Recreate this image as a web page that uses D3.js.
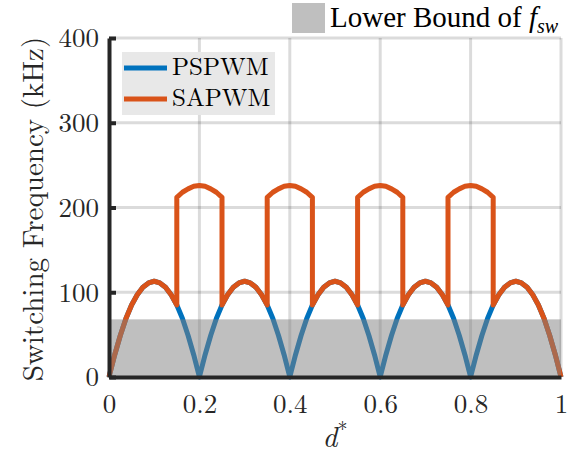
<!DOCTYPE html>
<meta charset="utf-8">
<style>
body { margin: 0; background: #fff; }
.grid line { stroke: #000; stroke-opacity: 0.14; stroke-width: 3; }
.axis path, .axis line { stroke: #262626; stroke-width: 4; }
.line { fill: none; stroke-width: 5; stroke-linejoin: round; }
</style>
<body>
<script src="https://d3js.org/d3.v7.min.js"></script>
<script>

// PSPWM switching frequency (kHz), sampled every dStep of d*
var dStep = 0.0125;
var pspwm = [
  0, 26, 49, 69, 85, 97, 106, 111, 113, 111, 106, 97, 85, 69, 49, 26,
  0, 26, 49, 69, 85, 97, 106, 111, 113, 111, 106, 97, 85, 69, 49, 26,
  0, 26, 49, 69, 85, 97, 106, 111, 113, 111, 106, 97, 85, 69, 49, 26,
  0, 26, 49, 69, 85, 97, 106, 111, 113, 111, 106, 97, 85, 69, 49, 26,
  0, 26, 49, 69, 85, 97, 106, 111, 113, 111, 106, 97, 85, 69, 49, 26,
  0
];

// SAPWM: [d*, kHz], jumps at 0.15, 0.25, ...
var sapwm = [
  [0, 0], [0.0125, 26], [0.025, 49], [0.0375, 69], [0.05, 85], [0.0625, 97], [0.075, 106], [0.0875, 111],
  [0.1, 113], [0.1125, 111], [0.125, 106], [0.1375, 97], [0.15, 85],
  [0.15, 212], [0.1625, 218], [0.175, 222], [0.1875, 225], [0.2, 226], [0.2125, 225], [0.225, 222], [0.2375, 218], [0.25, 212],
  [0.25, 85], [0.2625, 97], [0.275, 106], [0.2875, 111], [0.3, 113], [0.3125, 111], [0.325, 106], [0.3375, 97], [0.35, 85],
  [0.35, 212], [0.3625, 218], [0.375, 222], [0.3875, 225], [0.4, 226], [0.4125, 225], [0.425, 222], [0.4375, 218], [0.45, 212],
  [0.45, 85], [0.4625, 97], [0.475, 106], [0.4875, 111], [0.5, 113], [0.5125, 111], [0.525, 106], [0.5375, 97], [0.55, 85],
  [0.55, 212], [0.5625, 218], [0.575, 222], [0.5875, 225], [0.6, 226], [0.6125, 225], [0.625, 222], [0.6375, 218], [0.65, 212],
  [0.65, 85], [0.6625, 97], [0.675, 106], [0.6875, 111], [0.7, 113], [0.7125, 111], [0.725, 106], [0.7375, 97], [0.75, 85],
  [0.75, 212], [0.7625, 218], [0.775, 222], [0.7875, 225], [0.8, 226], [0.8125, 225], [0.825, 222], [0.8375, 218], [0.85, 212],
  [0.85, 85], [0.8625, 97], [0.875, 106], [0.8875, 111], [0.9, 113], [0.9125, 111], [0.925, 106], [0.9375, 97], [0.95, 85],
  [0.9625, 69], [0.975, 49], [0.9875, 26], [1, 0]
];

var lowerBound = 68;   // kHz, grey band
var xTicks = [0, 0.2, 0.4, 0.6, 0.8, 1];
var xTickLabels = ["0", "0.2", "0.4", "0.6", "0.8", "1"];
var yTicks = [0, 100, 200, 300, 400];
var seriesNames = ["PSPWM", "SAPWM"];
var seriesColors = ["#0072BD", "#D95319"];

var LM = "'Latin Modern Roman', 'CMU Serif', 'Liberation Serif', serif";
var TIMES = "'Liberation Serif', 'Times New Roman', serif";

var W = 573, H = 456;
var x = d3.scaleLinear().domain([0, 1]).range([109, 561]);
var y = d3.scaleLinear().domain([0, 400]).range([377, 38]);

var svg = d3.select("body").append("svg")
    .attr("width", W)
    .attr("height", H);

// grid
var grid = svg.append("g").attr("class", "grid");
grid.selectAll(".gx").data(xTicks.slice(1)).enter().append("line")
    .attr("x1", d => x(d)).attr("x2", d => x(d))
    .attr("y1", y(0)).attr("y2", y(400));
grid.selectAll(".gy").data(yTicks.slice(1)).enter().append("line")
    .attr("x1", x(0)).attr("x2", x(1))
    .attr("y1", d => y(d)).attr("y2", d => y(d));

// curves
var line = d3.line()
    .x(d => x(d[0]))
    .y(d => y(d[1]));

var psData = pspwm.map((v, i) => [i * dStep, v]);

svg.append("path").datum(psData)
    .attr("class", "line")
    .attr("stroke", seriesColors[0])
    .attr("d", line);

svg.append("path").datum(sapwm)
    .attr("class", "line")
    .attr("stroke", seriesColors[1])
    .attr("d", line);

// lower bound band, drawn translucent over the lines
svg.append("rect")
    .attr("x", x(0))
    .attr("y", y(lowerBound))
    .attr("width", x(1) - x(0))
    .attr("height", y(0) - y(lowerBound))
    .attr("fill", "#808080")
    .attr("fill-opacity", 0.5);

// axes
var yAxis = d3.axisLeft(y)
    .tickValues(yTicks)
    .tickSizeInner(-7)
    .tickSizeOuter(0)
    .tickPadding(10);

var gy = svg.append("g")
    .attr("class", "axis")
    .attr("transform", "translate(" + x(0) + ",0)")
    .call(yAxis);
gy.selectAll("text")
    .style("font-size", "27px")
    .style("font-family", LM)
    .attr("fill", "#262626")
    .attr("dy", "0.33em");

var xAxis = d3.axisBottom(x)
    .tickValues(xTicks)
    .tickFormat((d, i) => xTickLabels[i])
    .tickSizeInner(0)
    .tickSizeOuter(0)
    .tickPadding(17);

var gx = svg.append("g")
    .attr("class", "axis")
    .attr("transform", "translate(0," + y(0) + ")")
    .call(xAxis);
gx.selectAll("text")
    .style("font-size", "27px")
    .style("font-family", LM)
    .attr("fill", "#262626")
    .attr("dy", "0.71em");

// axis titles
svg.append("text")
    .attr("transform", "translate(43,209) rotate(-90)")
    .attr("text-anchor", "middle")
    .style("font-family", LM)
    .style("font-size", "29px")
    .attr("fill", "#262626")
    .text("Switching Frequency (kHz)");

var xl = svg.append("text")
    .attr("x", 335).attr("y", 447)
    .attr("text-anchor", "middle")
    .style("font-family", LM)
    .style("font-size", "29px")
    .attr("fill", "#262626");
xl.append("tspan").style("font-style", "italic").text("d");
xl.append("tspan").attr("dy", -11).style("font-size", "20px").text("*");

// series legend
var leg = svg.append("g");
leg.append("rect")
    .attr("x", 122).attr("y", 52)
    .attr("width", 153).attr("height", 63)
    .attr("fill", "#e8e8e8");
seriesNames.forEach(function(name, i) {
  var ly = 68 + i * 31;
  leg.append("line")
      .attr("x1", 124).attr("x2", 167)
      .attr("y1", ly).attr("y2", ly)
      .attr("stroke", seriesColors[i])
      .attr("stroke-width", 5);
  leg.append("text")
      .attr("x", 172).attr("y", ly + 7)
      .style("font-family", LM)
      .style("font-size", "25px")
      .attr("fill", "#000")
      .text(name);
});

// band legend, top right
svg.append("rect")
    .attr("x", 292).attr("y", 3)
    .attr("width", 33).attr("height", 30)
    .attr("fill", "#bfbfbf");
var bt = svg.append("text")
    .attr("x", 330).attr("y", 27)
    .style("font-family", TIMES)
    .style("font-size", "29px")
    .attr("fill", "#000");
bt.append("tspan").text("Lower Bound of ");
bt.append("tspan").style("font-style", "italic").text("f");
bt.append("tspan").attr("dy", 6).style("font-style", "italic").style("font-size", "20px").text("sw");

</script>
</body>
